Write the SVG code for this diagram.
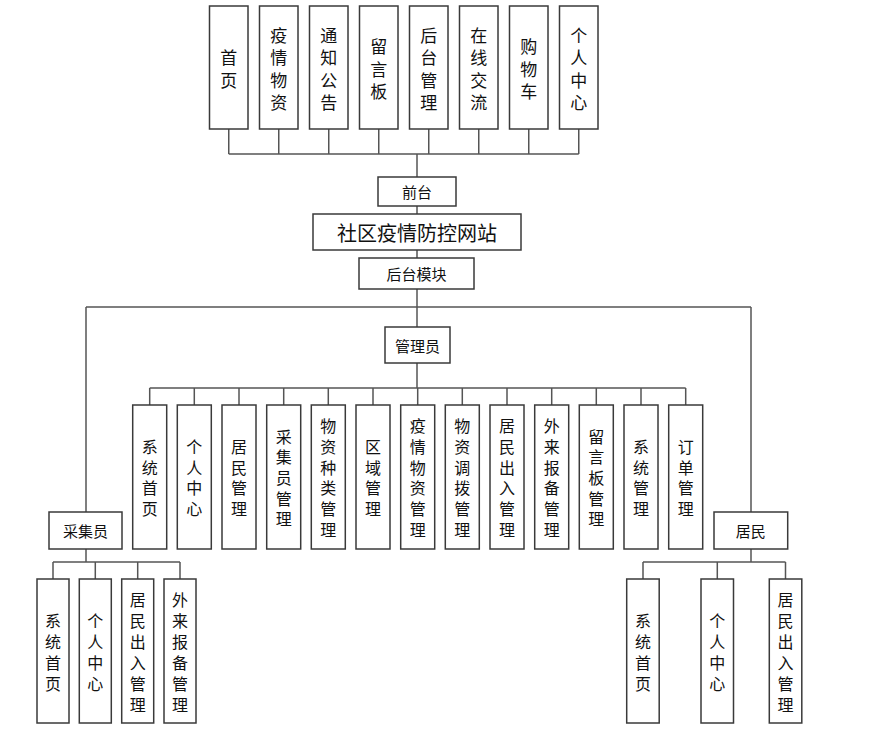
<svg xmlns="http://www.w3.org/2000/svg" width="878" height="736" viewBox="0 0 878 736">
<style>
.b{fill:#fff;stroke:#3a3a3a;stroke-width:1.5}
.c{fill:none;stroke:#555;stroke-width:1.5}
text{font-family:"Noto Sans CJK SC","Noto Sans",sans-serif;fill:#111;text-anchor:middle;dominant-baseline:central}
.t{font-size:17px}
.m{font-size:16px}
.h{font-size:15px}
.big{font-size:20px}
</style>
<rect width="878" height="736" fill="#fff"/>
<g id="connectors">
<path class="c" d="M228.75 129V154M278.75 129V154M328.75 129V154M378.75 129V154M428.75 129V154M478.75 129V154M528.75 129V154M578.75 129V154M228.75 154H578.75M417 154V177M417 206V214M417 250V258M417 289V327M86 307H751M86 307V512M751 307V512M417 363V388M149.7 388H685.7"/>
<path class="c" d="M149.7 388V405M194.3 388V405M239 388V405M283.7 388V405M328.3 388V405M373 388V405M417.7 388V405M462.3 388V405M507 388V405M551.7 388V405M596.3 388V405M641 388V405M685.7 388V405"/>
<path class="c" d="M86 549V562M53 562H180M53 562V579M95.3 562V579M137.7 562V579M180 562V579"/>
<path class="c" d="M751 549V562M643 562H785.5M643 562V579M717.3 562V579M785.5 562V579"/>
</g>
<g id="n_home"><rect class="b" x="209.5" y="6" width="38.5" height="123"/><text class="t"><tspan x="228.75" y="56.25">首</tspan><tspan x="228.75" dy="22.5">页</tspan></text></g>
<g id="n_yqwz"><rect class="b" x="259.5" y="6" width="38.5" height="123"/><text class="t"><tspan x="278.75" y="33.75">疫</tspan><tspan x="278.75" dy="22.5">情</tspan><tspan x="278.75" dy="22.5">物</tspan><tspan x="278.75" dy="22.5">资</tspan></text></g>
<g id="n_tzgg"><rect class="b" x="309.5" y="6" width="38.5" height="123"/><text class="t"><tspan x="328.75" y="33.75">通</tspan><tspan x="328.75" dy="22.5">知</tspan><tspan x="328.75" dy="22.5">公</tspan><tspan x="328.75" dy="22.5">告</tspan></text></g>
<g id="n_lyb"><rect class="b" x="359.5" y="6" width="38.5" height="123"/><text class="t"><tspan x="378.75" y="45">留</tspan><tspan x="378.75" dy="22.5">言</tspan><tspan x="378.75" dy="22.5">板</tspan></text></g>
<g id="n_htgl"><rect class="b" x="409.5" y="6" width="38.5" height="123"/><text class="t"><tspan x="428.75" y="33.75">后</tspan><tspan x="428.75" dy="22.5">台</tspan><tspan x="428.75" dy="22.5">管</tspan><tspan x="428.75" dy="22.5">理</tspan></text></g>
<g id="n_zxjl"><rect class="b" x="459.5" y="6" width="38.5" height="123"/><text class="t"><tspan x="478.75" y="33.75">在</tspan><tspan x="478.75" dy="22.5">线</tspan><tspan x="478.75" dy="22.5">交</tspan><tspan x="478.75" dy="22.5">流</tspan></text></g>
<g id="n_gwc"><rect class="b" x="509.5" y="6" width="38.5" height="123"/><text class="t"><tspan x="528.75" y="45">购</tspan><tspan x="528.75" dy="22.5">物</tspan><tspan x="528.75" dy="22.5">车</tspan></text></g>
<g id="n_grzx"><rect class="b" x="559.5" y="6" width="38.5" height="123"/><text class="t"><tspan x="578.75" y="33.75">个</tspan><tspan x="578.75" dy="22.5">人</tspan><tspan x="578.75" dy="22.5">中</tspan><tspan x="578.75" dy="22.5">心</tspan></text></g>
<g id="n_qt"><rect class="b" x="378" y="177" width="78" height="29"/><text class="h" x="417" y="191.5">前台</text></g>
<g id="n_site"><rect class="b" x="313" y="214" width="208" height="36"/><text class="big" x="417" y="232">社区疫情防控网站</text></g>
<g id="n_htmk"><rect class="b" x="359" y="258" width="115" height="31"/><text class="h" x="416.5" y="273.5">后台模块</text></g>
<g id="n_admin"><rect class="b" x="385" y="327" width="65" height="36"/><text class="h" x="417.5" y="345">管理员</text></g>
<g id="a1"><rect class="b" x="132.7" y="405" width="34" height="144"/><text class="m"><tspan x="149.7" y="446">系</tspan><tspan x="149.7" dy="20.7">统</tspan><tspan x="149.7" dy="20.7">首</tspan><tspan x="149.7" dy="20.7">页</tspan></text></g>
<g id="a2"><rect class="b" x="177.3" y="405" width="34" height="144"/><text class="m"><tspan x="194.3" y="446">个</tspan><tspan x="194.3" dy="20.7">人</tspan><tspan x="194.3" dy="20.7">中</tspan><tspan x="194.3" dy="20.7">心</tspan></text></g>
<g id="a3"><rect class="b" x="222" y="405" width="34" height="144"/><text class="m"><tspan x="239" y="446">居</tspan><tspan x="239" dy="20.7">民</tspan><tspan x="239" dy="20.7">管</tspan><tspan x="239" dy="20.7">理</tspan></text></g>
<g id="a4"><rect class="b" x="266.7" y="405" width="34" height="144"/><text class="m"><tspan x="283.7" y="435.6">采</tspan><tspan x="283.7" dy="20.7">集</tspan><tspan x="283.7" dy="20.7">员</tspan><tspan x="283.7" dy="20.7">管</tspan><tspan x="283.7" dy="20.7">理</tspan></text></g>
<g id="a5"><rect class="b" x="311.3" y="405" width="34" height="144"/><text class="m"><tspan x="328.3" y="425.3">物</tspan><tspan x="328.3" dy="20.7">资</tspan><tspan x="328.3" dy="20.7">种</tspan><tspan x="328.3" dy="20.7">类</tspan><tspan x="328.3" dy="20.7">管</tspan><tspan x="328.3" dy="20.7">理</tspan></text></g>
<g id="a6"><rect class="b" x="356" y="405" width="34" height="144"/><text class="m"><tspan x="373" y="446">区</tspan><tspan x="373" dy="20.7">域</tspan><tspan x="373" dy="20.7">管</tspan><tspan x="373" dy="20.7">理</tspan></text></g>
<g id="a7"><rect class="b" x="400.7" y="405" width="34" height="144"/><text class="m"><tspan x="417.7" y="425.3">疫</tspan><tspan x="417.7" dy="20.7">情</tspan><tspan x="417.7" dy="20.7">物</tspan><tspan x="417.7" dy="20.7">资</tspan><tspan x="417.7" dy="20.7">管</tspan><tspan x="417.7" dy="20.7">理</tspan></text></g>
<g id="a8"><rect class="b" x="445.3" y="405" width="34" height="144"/><text class="m"><tspan x="462.3" y="425.3">物</tspan><tspan x="462.3" dy="20.7">资</tspan><tspan x="462.3" dy="20.7">调</tspan><tspan x="462.3" dy="20.7">拨</tspan><tspan x="462.3" dy="20.7">管</tspan><tspan x="462.3" dy="20.7">理</tspan></text></g>
<g id="a9"><rect class="b" x="490" y="405" width="34" height="144"/><text class="m"><tspan x="507" y="425.3">居</tspan><tspan x="507" dy="20.7">民</tspan><tspan x="507" dy="20.7">出</tspan><tspan x="507" dy="20.7">入</tspan><tspan x="507" dy="20.7">管</tspan><tspan x="507" dy="20.7">理</tspan></text></g>
<g id="a10"><rect class="b" x="534.7" y="405" width="34" height="144"/><text class="m"><tspan x="551.7" y="425.3">外</tspan><tspan x="551.7" dy="20.7">来</tspan><tspan x="551.7" dy="20.7">报</tspan><tspan x="551.7" dy="20.7">备</tspan><tspan x="551.7" dy="20.7">管</tspan><tspan x="551.7" dy="20.7">理</tspan></text></g>
<g id="a11"><rect class="b" x="579.3" y="405" width="34" height="144"/><text class="m"><tspan x="596.3" y="435.6">留</tspan><tspan x="596.3" dy="20.7">言</tspan><tspan x="596.3" dy="20.7">板</tspan><tspan x="596.3" dy="20.7">管</tspan><tspan x="596.3" dy="20.7">理</tspan></text></g>
<g id="a12"><rect class="b" x="624" y="405" width="34" height="144"/><text class="m"><tspan x="641" y="446">系</tspan><tspan x="641" dy="20.7">统</tspan><tspan x="641" dy="20.7">管</tspan><tspan x="641" dy="20.7">理</tspan></text></g>
<g id="a13"><rect class="b" x="668.7" y="405" width="34" height="144"/><text class="m"><tspan x="685.7" y="446">订</tspan><tspan x="685.7" dy="20.7">单</tspan><tspan x="685.7" dy="20.7">管</tspan><tspan x="685.7" dy="20.7">理</tspan></text></g>
<g id="n_cjy"><rect class="b" x="49" y="512" width="73" height="37"/><text class="h" x="85.5" y="530.5">采集员</text></g>
<g id="n_jm"><rect class="b" x="714" y="512" width="73.7" height="37"/><text class="h" x="750.8" y="530.5">居民</text></g>
<g id="c1"><rect class="b" x="37" y="579" width="32" height="144"/><text class="m"><tspan x="53" y="619.5">系</tspan><tspan x="53" dy="21">统</tspan><tspan x="53" dy="21">首</tspan><tspan x="53" dy="21">页</tspan></text></g>
<g id="c2"><rect class="b" x="79.3" y="579" width="32" height="144"/><text class="m"><tspan x="95.3" y="619.5">个</tspan><tspan x="95.3" dy="21">人</tspan><tspan x="95.3" dy="21">中</tspan><tspan x="95.3" dy="21">心</tspan></text></g>
<g id="c3"><rect class="b" x="121.7" y="579" width="32" height="144"/><text class="m"><tspan x="137.7" y="598.5">居</tspan><tspan x="137.7" dy="21">民</tspan><tspan x="137.7" dy="21">出</tspan><tspan x="137.7" dy="21">入</tspan><tspan x="137.7" dy="21">管</tspan><tspan x="137.7" dy="21">理</tspan></text></g>
<g id="c4"><rect class="b" x="164" y="579" width="32" height="144"/><text class="m"><tspan x="180" y="598.5">外</tspan><tspan x="180" dy="21">来</tspan><tspan x="180" dy="21">报</tspan><tspan x="180" dy="21">备</tspan><tspan x="180" dy="21">管</tspan><tspan x="180" dy="21">理</tspan></text></g>
<g id="r1"><rect class="b" x="626.7" y="579" width="32.5" height="144"/><text class="m"><tspan x="643" y="619.5">系</tspan><tspan x="643" dy="21">统</tspan><tspan x="643" dy="21">首</tspan><tspan x="643" dy="21">页</tspan></text></g>
<g id="r2"><rect class="b" x="701" y="579" width="32.5" height="144"/><text class="m"><tspan x="717.3" y="619.5">个</tspan><tspan x="717.3" dy="21">人</tspan><tspan x="717.3" dy="21">中</tspan><tspan x="717.3" dy="21">心</tspan></text></g>
<g id="r3"><rect class="b" x="769.3" y="579" width="32.5" height="144"/><text class="m"><tspan x="785.5" y="598.5">居</tspan><tspan x="785.5" dy="21">民</tspan><tspan x="785.5" dy="21">出</tspan><tspan x="785.5" dy="21">入</tspan><tspan x="785.5" dy="21">管</tspan><tspan x="785.5" dy="21">理</tspan></text></g>
</svg>
